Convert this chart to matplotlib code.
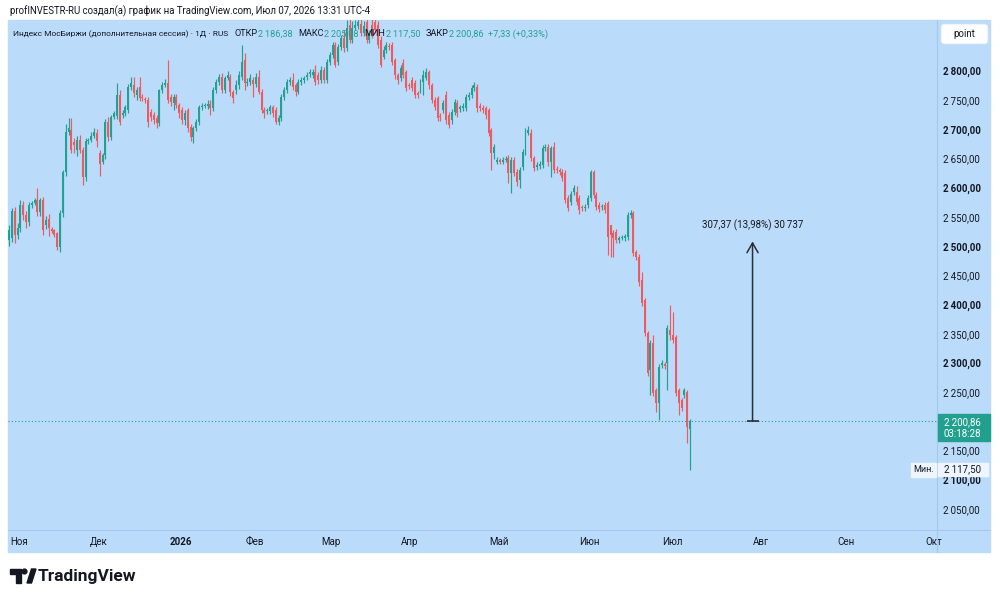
import matplotlib
matplotlib.use('Agg')
import matplotlib.pyplot as plt
from matplotlib.patches import Rectangle, FancyBboxPatch, Polygon, Circle
from matplotlib.lines import Line2D
from matplotlib.transforms import IdentityTransform

# daily candles, 01 Nov 2025 .. 07 Jul 2026
opens = [
    2511, 2514, 2560, 2519, 2531, 2571, 2553, 2541, 2571, 2574,
    2579, 2558, 2579, 2536, 2547, 2530, 2528, 2522, 2499, 2557,
    2627, 2696, 2699, 2678, 2665, 2682, 2665, 2618, 2680, 2682,
    2688, 2694, 2660, 2645, 2656, 2713, 2687, 2721, 2723, 2759,
    2725, 2728, 2733, 2773, 2776, 2759, 2773, 2755, 2752, 2750,
    2730, 2725, 2720, 2711, 2767, 2776, 2780, 2755, 2745, 2755,
    2742, 2733, 2716, 2733, 2704, 2687, 2702, 2713, 2738, 2740,
    2740, 2744, 2737, 2767, 2781, 2790, 2767, 2788, 2790, 2764,
    2767, 2776, 2790, 2818, 2780, 2782, 2785, 2778, 2790, 2764,
    2733, 2731, 2731, 2738, 2733, 2713, 2720, 2755, 2767, 2781,
    2785, 2776, 2764, 2781, 2785, 2790, 2795, 2793, 2798, 2793,
    2785, 2802, 2785, 2815, 2827, 2845, 2815, 2841, 2856, 2839,
    2879, 2853, 2874, 2877, 2880, 2865, 2884, 2853, 2879, 2884,
    2879, 2853, 2824, 2836, 2843, 2845, 2819, 2793, 2788, 2814,
    2798, 2776, 2785, 2780, 2762, 2767, 2781, 2788, 2798, 2776,
    2750, 2754, 2723, 2733, 2759, 2725, 2716, 2730, 2745, 2735,
    2737, 2737, 2755, 2759, 2771, 2773, 2740, 2737, 2737, 2733,
    2699, 2660, 2645, 2646, 2645, 2648, 2651, 2625, 2648, 2627,
    2613, 2636, 2661, 2694, 2694, 2651, 2636, 2637, 2639, 2668,
    2670, 2644, 2670, 2632, 2630, 2627, 2625, 2583, 2576, 2593,
    2593, 2583, 2567, 2566, 2571, 2583, 2627, 2588, 2571, 2567,
    2571, 2574, 2536, 2523, 2525, 2511, 2514, 2514, 2516, 2553,
    2557, 2490, 2482, 2442, 2408, 2351, 2288, 2334, 2254, 2232,
    2297, 2298, 2300, 2357, 2348, 2344, 2254, 2237, 2245, 2250,
    2186.38,
]
highs = [
    2536, 2566, 2568, 2540, 2580, 2578, 2560, 2576, 2578, 2583,
    2600, 2583, 2585, 2552, 2555, 2533, 2530, 2524, 2562, 2631,
    2710, 2720, 2720, 2685, 2688, 2690, 2670, 2685, 2686, 2695,
    2702, 2700, 2665, 2660, 2718, 2722, 2725, 2732, 2780, 2767,
    2733, 2742, 2778, 2790, 2790, 2772, 2790, 2760, 2756, 2755,
    2735, 2730, 2725, 2770, 2782, 2786, 2819, 2760, 2760, 2760,
    2746, 2738, 2733, 2736, 2710, 2706, 2718, 2742, 2745, 2746,
    2750, 2750, 2772, 2786, 2795, 2796, 2792, 2800, 2795, 2768,
    2785, 2800, 2845, 2830, 2788, 2795, 2790, 2796, 2802, 2770,
    2738, 2737, 2742, 2742, 2738, 2725, 2760, 2772, 2786, 2790,
    2797, 2780, 2786, 2790, 2792, 2798, 2803, 2804, 2810, 2798,
    2808, 2807, 2820, 2832, 2850, 2850, 2846, 2862, 2870, 2887,
    2890, 2885, 2888, 2890, 2890, 2885, 2890, 2870, 2890, 2890,
    2885, 2860, 2842, 2850, 2848, 2850, 2822, 2797, 2810, 2820,
    2802, 2780, 2790, 2784, 2766, 2786, 2802, 2805, 2802, 2780,
    2755, 2757, 2728, 2750, 2765, 2730, 2735, 2752, 2750, 2742,
    2745, 2760, 2764, 2776, 2781, 2778, 2745, 2742, 2740, 2736,
    2703, 2675, 2652, 2651, 2652, 2654, 2656, 2652, 2652, 2632,
    2636, 2666, 2702, 2705, 2701, 2655, 2644, 2646, 2673, 2675,
    2675, 2672, 2679, 2637, 2634, 2632, 2630, 2588, 2595, 2605,
    2603, 2587, 2571, 2572, 2588, 2631, 2631, 2592, 2575, 2573,
    2575, 2578, 2537, 2527, 2530, 2518, 2520, 2521, 2558, 2562,
    2561, 2494, 2486, 2456, 2412, 2355, 2340, 2348, 2258, 2298,
    2305, 2302, 2365, 2400, 2388, 2348, 2258, 2241, 2258, 2254,
    2205.08,
]
lows = [
    2500, 2508, 2505, 2512, 2525, 2545, 2532, 2535, 2566, 2570,
    2552, 2552, 2520, 2530, 2518, 2522, 2515, 2494, 2490, 2550,
    2620, 2690, 2660, 2660, 2655, 2660, 2605, 2612, 2675, 2678,
    2685, 2670, 2620, 2640, 2650, 2680, 2682, 2718, 2718, 2708,
    2720, 2723, 2728, 2768, 2755, 2750, 2748, 2748, 2745, 2704,
    2715, 2710, 2702, 2706, 2762, 2772, 2745, 2740, 2733, 2736,
    2720, 2710, 2708, 2696, 2680, 2677, 2697, 2708, 2733, 2736,
    2735, 2725, 2732, 2762, 2776, 2762, 2762, 2784, 2758, 2746,
    2760, 2770, 2785, 2767, 2775, 2776, 2756, 2772, 2760, 2728,
    2720, 2726, 2726, 2722, 2710, 2708, 2715, 2750, 2762, 2776,
    2768, 2758, 2760, 2776, 2780, 2785, 2790, 2788, 2776, 2778,
    2780, 2780, 2780, 2810, 2822, 2806, 2810, 2836, 2833, 2834,
    2848, 2848, 2870, 2872, 2860, 2860, 2848, 2848, 2856, 2865,
    2840, 2806, 2820, 2830, 2836, 2810, 2786, 2778, 2783, 2788,
    2765, 2770, 2766, 2754, 2754, 2762, 2759, 2784, 2770, 2745,
    2733, 2715, 2715, 2728, 2710, 2702, 2710, 2725, 2722, 2730,
    2732, 2732, 2750, 2754, 2766, 2730, 2732, 2728, 2718, 2688,
    2630, 2650, 2640, 2640, 2640, 2644, 2608, 2591, 2620, 2603,
    2600, 2630, 2656, 2690, 2646, 2628, 2630, 2632, 2634, 2663,
    2638, 2618, 2626, 2625, 2622, 2612, 2574, 2560, 2570, 2588,
    2571, 2556, 2560, 2561, 2566, 2578, 2583, 2562, 2558, 2562,
    2557, 2485, 2482, 2482, 2505, 2506, 2510, 2509, 2511, 2548,
    2483, 2476, 2432, 2398, 2346, 2278, 2245, 2243, 2216, 2202,
    2292, 2290, 2254, 2340, 2334, 2244, 2211, 2218, 2240, 2163,
    2117.50,
]
closes = [
    2528, 2560, 2519, 2531, 2571, 2553, 2541, 2571, 2574, 2579,
    2558, 2579, 2528, 2545, 2531, 2526, 2519, 2499, 2557, 2627,
    2696, 2703, 2665, 2673, 2682, 2665, 2618, 2680, 2682, 2688,
    2696, 2680, 2640, 2656, 2713, 2687, 2721, 2728, 2759, 2713,
    2728, 2738, 2773, 2780, 2762, 2767, 2754, 2754, 2750, 2713,
    2721, 2716, 2711, 2767, 2776, 2780, 2750, 2747, 2755, 2742,
    2728, 2716, 2728, 2702, 2687, 2702, 2713, 2738, 2740, 2742,
    2744, 2737, 2767, 2781, 2790, 2767, 2788, 2793, 2764, 2754,
    2776, 2793, 2815, 2780, 2782, 2788, 2778, 2790, 2764, 2733,
    2728, 2733, 2738, 2728, 2713, 2720, 2755, 2767, 2781, 2785,
    2773, 2764, 2781, 2785, 2788, 2793, 2798, 2798, 2781, 2785,
    2802, 2785, 2815, 2827, 2845, 2810, 2841, 2856, 2839, 2874,
    2853, 2874, 2879, 2884, 2865, 2877, 2853, 2865, 2862, 2870,
    2845, 2810, 2836, 2845, 2841, 2815, 2793, 2785, 2805, 2793,
    2771, 2774, 2771, 2759, 2759, 2781, 2793, 2798, 2776, 2750,
    2738, 2720, 2721, 2745, 2716, 2708, 2730, 2747, 2728, 2738,
    2740, 2755, 2759, 2771, 2776, 2737, 2737, 2733, 2725, 2694,
    2660, 2670, 2646, 2645, 2647, 2650, 2625, 2648, 2625, 2610,
    2631, 2661, 2694, 2699, 2651, 2634, 2639, 2641, 2668, 2670,
    2644, 2668, 2631, 2631, 2627, 2617, 2579, 2566, 2590, 2600,
    2576, 2562, 2565, 2568, 2583, 2627, 2588, 2567, 2564, 2569,
    2562, 2516, 2519, 2514, 2511, 2514, 2516, 2517, 2553, 2557,
    2488, 2482, 2439, 2403, 2351, 2283, 2334, 2249, 2232, 2293,
    2300, 2295, 2360, 2348, 2339, 2249, 2232, 2223, 2254, 2190,
    2200.86,
]

month_labels = ['Ноя', 'Дек', '2026', 'Фев', 'Мар', 'Апр', 'Май', 'Июн', 'Июл', 'Авг', 'Сен', 'Окт']
month_pos = [3.5, 31.7, 60.6, 86.7, 113.5, 141.0, 172.7, 204.4, 233.7, 265.0, 295.0, 326.0]
price_ticks = list(range(2050, 2801, 50))

last_price = 2200.86
day_change = 7.33
day_change_pct = 0.33
range_points = 307.37
range_pct = 13.98
range_ticks = 30737
measure_bar = 262

BG = '#bbdbfa'
UP = '#22a192'
DOWN = '#ec5b60'
TEXT = '#131722'
SEP = '#a6c8ec'

plt.rcParams['font.family'] = ['Roboto', 'DejaVu Sans']


def fmt(v):
    s = '{:,.2f}'.format(v)
    return s.replace(',', '\u2009').replace('.', ',')


fig = plt.figure(figsize=(10, 6), dpi=100)
P = IdentityTransform()


def py(y):
    # pixel y from top -> display y
    return 600 - y


fig.add_artist(Rectangle((8, py(552)), 982, 532, transform=P, color=BG, zorder=-1))

ax = fig.add_axes([8 / 1000, 1 - 530 / 600, 929 / 1000, 510 / 600])
ax.set_facecolor(BG)

# candles
idx = list(range(len(closes)))
cols = [UP if c >= o else DOWN for o, c in zip(opens, closes)]
bottoms = [min(o, c) for o, c in zip(opens, closes)]
heights = [max(abs(c - o), 1.8) for o, c in zip(opens, closes)]
ax.vlines(idx, lows, highs, colors=cols, linewidth=0.85)
ax.bar(idx, heights, bottom=bottoms, width=0.7, color=cols, linewidth=0)

ax.axhline(last_price, color=UP, linestyle=(0, (1, 2)), linewidth=0.8)

# price range measurement
top = last_price + range_points
ax.annotate('', xy=(measure_bar, top), xytext=(measure_bar, last_price),
            arrowprops=dict(arrowstyle='->,head_length=0.7,head_width=0.4',
                            color='#2a2e39', lw=1.1, shrinkA=0, shrinkB=0))
ax.plot([measure_bar], [last_price], marker='_', markersize=9, mew=1.2, color='#2a2e39')
label = '{} ({}%) {}'.format(fmt(range_points), ('%.2f' % range_pct).replace('.', ','),
                             '{:,}'.format(range_ticks).replace(',', '\u2009'))
ax.annotate(label, xy=(measure_bar, top), xytext=(0, 16), textcoords='offset pixels',
            ha='center', va='center', fontsize=7, color=TEXT)

ax.set_xlim(-0.35, 327.0)
ax.set_ylim(2014.2, 2887.3)
ax.yaxis.tick_right()
ax.set_yticks(price_ticks)
ax.set_yticklabels([fmt(v) for v in price_ticks])
for lab, v in zip(ax.get_yticklabels(), price_ticks):
    if v % 100 == 0:
        lab.set_fontweight('bold')
ax.tick_params(axis='y', length=0, pad=4.5, labelsize=7, labelcolor=TEXT)
ax.set_xticks(month_pos)
ax.set_xticklabels(month_labels)
ax.get_xticklabels()[2].set_fontweight('bold')
ax.tick_params(axis='x', length=0, pad=5, labelsize=7, labelcolor=TEXT)
for s in ax.spines.values():
    s.set_visible(False)

fig.add_artist(Line2D([937, 937], [py(20), py(552)], transform=P, color=SEP, lw=0.8, zorder=2))
fig.add_artist(Line2D([8, 990], [py(530), py(530)], transform=P, color=SEP, lw=0.8, zorder=2))

# header
fig.text(10, py(11), 'profINVESTR-RU создал(а) график на TradingView.com, Июл 07, 2026 13:31 UTC-4',
         transform=P, fontsize=6.9, va='center', color=TEXT)

renderer = fig.canvas.get_renderer()
pieces = [
    ('Индекс МосБиржи (дополнительная сессия) · 1Д · RUS', TEXT, 6, 6.0),
    ('ОТКР', TEXT, 1, 6.6), (fmt(opens[-1]), UP, 5, 6.6),
    ('МАКС', TEXT, 1, 6.6), (fmt(highs[-1]), UP, 5, 6.6),
    ('МИН', TEXT, 1, 6.6), (fmt(lows[-1]), UP, 5, 6.6),
    ('ЗАКР', TEXT, 1, 6.6), (fmt(closes[-1]), UP, 4, 6.6),
    ('+{} (+{}%)'.format(fmt(day_change), fmt(day_change_pct)), UP, 0, 6.6),
]
x = 13
for txt, color, gap, size in pieces:
    t = fig.text(x, py(34), txt, transform=P, fontsize=size, va='center', color=color, zorder=5)
    x = t.get_window_extent(renderer).x1 + gap

# "point" box
fig.add_artist(FancyBboxPatch((941, py(44)), 47, 20, boxstyle='round,pad=0,rounding_size=3',
                              transform=P, facecolor='white', edgecolor='#d6e4f2', lw=0.6, zorder=4))
fig.text(964.5, py(34), 'point', transform=P, fontsize=7, ha='center', va='center', color=TEXT, zorder=5)

# last price label
fig.add_artist(Rectangle((938, py(441)), 52, 27, transform=P, color='#22a08f', zorder=4))
fig.text(962, py(422), fmt(last_price), transform=P, fontsize=7, ha='center', va='center',
         color='white', zorder=5)
fig.text(962, py(434), '03:18:28', transform=P, fontsize=7, ha='center', va='center',
         color='white', zorder=5)

# low label
fig.add_artist(Rectangle((911, py(477)), 25, 14, transform=P, color='#eef5fd', zorder=4))
fig.text(923.5, py(470), 'Мин.', transform=P, fontsize=6.5, ha='center', va='center', color=TEXT, zorder=5)
fig.add_artist(Rectangle((938, py(476)), 50, 13, transform=P, color='#eef5fd', zorder=4))
fig.text(962, py(469.5), fmt(lows[-1]), transform=P, fontsize=7, ha='center', va='center',
         color=TEXT, zorder=5)

# TradingView logo
fig.add_artist(Polygon([(10, py(569)), (21, py(569)), (21, py(583)), (16, py(583)),
                        (16, py(574)), (10, py(574))], closed=True, transform=P, color=TEXT))
fig.add_artist(Circle((24.5, py(571.5)), 2.4, transform=P, color=TEXT))
fig.add_artist(Polygon([(27, py(583)), (31.5, py(569)), (36, py(569)), (31.5, py(583))],
                       closed=True, transform=P, color=TEXT))
fig.text(38, py(576), 'TradingView', transform=P, fontsize=12.5, fontweight='bold',
         va='center', color=TEXT)

fig.savefig('out.png', dpi=100)
